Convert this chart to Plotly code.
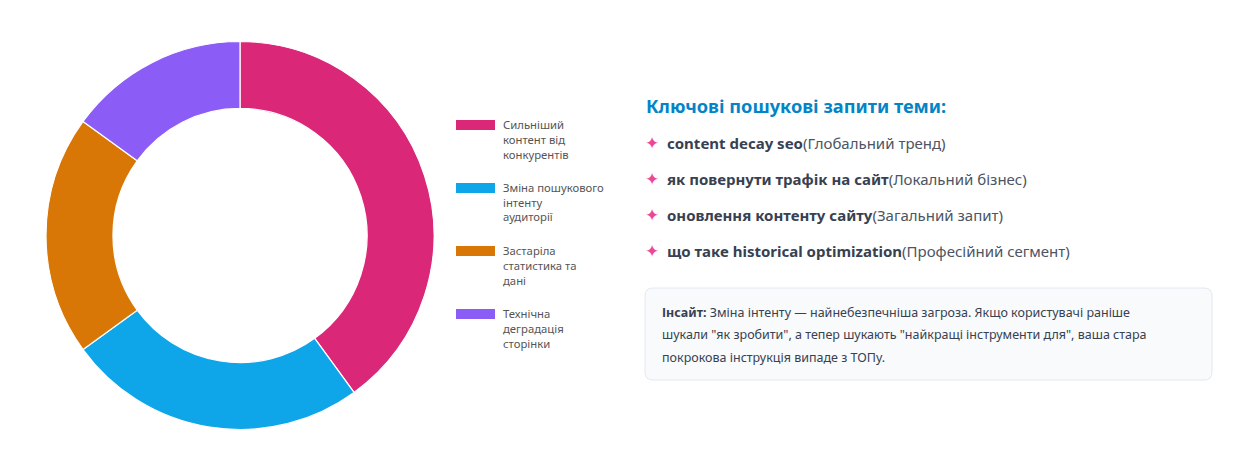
import plotly.graph_objects as go

# page has an 8px body margin; the figure is sized to fit inside the window
OFF = 8
W, H = 1260 - 2 * OFF, 467 - 2 * OFF

labels = ["Сильніший контент від конкурентів", "Зміна пошукового інтенту аудиторії",
          "Застаріла статистика та дані", "Технічна деградація сторінки"]
legend_lines = [["Сильніший", "контент від", "конкурентів"],
                ["Зміна пошукового", "інтенту", "аудиторії"],
                ["Застаріла", "статистика та", "дані"],
                ["Технічна", "деградація", "сторінки"]]
values = [40, 25, 20, 15]
colors = ["#DB2777", "#0EA5E9", "#D97706", "#8B5CF6"]

panel_title = "Ключові пошукові запити теми:"
queries = ["content decay seo", "як повернути трафік на сайт", "оновлення контенту сайту",
           "що таке historical optimization"]
segments = ["Глобальний тренд", "Локальний бізнес", "Загальний запит", "Професійний сегмент"]
insight_lines = ["<b>Інсайт:</b> Зміна інтенту — найнебезпечніша загроза. Якщо користувачі раніше",
                 "шукали \"як зробити\", а тепер шукають \"найкращі інструменти для\", ваша стара",
                 "покрокова інструкція випаде з ТОПу."]

FONT = "Noto Sans, Open Sans, DejaVu Sans, sans-serif"

def px(x):
    return (x - OFF) / W

def py(y):
    return 1 - (y - OFF) / H

fig = go.Figure(go.Pie(
    labels=labels, values=values, hole=0.655, sort=False, direction="clockwise", rotation=0,
    marker=dict(colors=colors, line=dict(color="#FFFFFF", width=1.2)),
    textinfo="none", hoverinfo="label+percent", showlegend=False,
    domain=dict(x=[px(46), px(434)], y=[py(430), py(41)]),
))

shapes = []
annotations = []

# custom legend
for i, lines in enumerate(legend_lines):
    cy = 125 + 63 * i
    shapes.append(dict(type="rect", xref="paper", yref="paper",
                       x0=px(456), x1=px(495), y0=py(cy + 5), y1=py(cy - 5),
                       fillcolor=colors[i], line=dict(width=0)))
    for j, ln in enumerate(lines):
        annotations.append(dict(xref="paper", yref="paper", x=px(501), y=py(cy - 1 + 15 * j),
                                text=ln, showarrow=False, xanchor="left", yanchor="middle",
                                font=dict(family=FONT, size=11.3, color="#555555")))

# right panel
annotations.append(dict(xref="paper", yref="paper", x=px(644), y=py(106), text="<b>" + panel_title + "</b>",
                        showarrow=False, xanchor="left", yanchor="middle",
                        font=dict(family=FONT, size=18.2, color="#0284C7")))
for i, (q, s) in enumerate(zip(queries, segments)):
    yy = 143 + 36 * i
    annotations.append(dict(xref="paper", yref="paper", x=px(651.5), y=py(yy), text="✦",
                            showarrow=False, xanchor="center", yanchor="middle",
                            font=dict(family="DejaVu Sans, sans-serif", size=17, color="#EC4899")))
    annotations.append(dict(xref="paper", yref="paper", x=px(665), y=py(yy),
                            text=f"<b>{q}</b><span style='color:#4B5563'>({s})</span>",
                            showarrow=False, xanchor="left", yanchor="middle",
                            font=dict(family=FONT, size=15, color="#374151")))

# insight box (rounded rect)
x0, x1, y0, y1, r = 645, 1212, 288, 380, 8
rx, ry = r / W, r / H
X0, X1, Y0, Y1 = px(x0), px(x1), py(y1), py(y0)
path = (f"M {X0+rx},{Y0} L {X1-rx},{Y0} Q {X1},{Y0} {X1},{Y0+ry} "
        f"L {X1},{Y1-ry} Q {X1},{Y1} {X1-rx},{Y1} L {X0+rx},{Y1} Q {X0},{Y1} {X0},{Y1-ry} "
        f"L {X0},{Y0+ry} Q {X0},{Y0} {X0+rx},{Y0} Z")
shapes.append(dict(type="path", xref="paper", yref="paper", path=path,
                   fillcolor="#F8FAFC", line=dict(color="#E2E8F0", width=1)))
for j, ln in enumerate(insight_lines):
    annotations.append(dict(xref="paper", yref="paper", x=px(660), y=py(312 + 22.5 * j), text=ln,
                            showarrow=False, xanchor="left", yanchor="middle",
                            font=dict(family=FONT, size=12.5, color="#374151")))

fig.update_layout(width=W, height=H, margin=dict(l=0, r=0, t=0, b=0),
                  paper_bgcolor="#FFFFFF", plot_bgcolor="#FFFFFF",
                  shapes=shapes, annotations=annotations)

fig.write_html("out.html")
